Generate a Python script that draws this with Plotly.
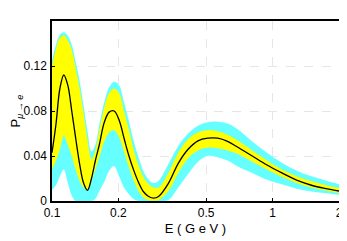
import plotly.graph_objects as go

# Energy grid (GeV)
E = [0.100, 0.1042, 0.1086, 0.1131, 0.1179, 0.1229, 0.1280, 0.1334, 0.1390, 0.1449,
     0.1510, 0.1573, 0.1639, 0.1726, 0.1816, 0.1913, 0.2014, 0.2120, 0.2233, 0.2350,
     0.2475, 0.2605, 0.2743, 0.2888, 0.3040, 0.3371, 0.3736, 0.4140, 0.4589, 0.5086,
     0.5638, 0.6249, 0.6926, 0.8083, 0.9434, 1.101, 1.285, 1.500, 1.750, 2.000]

# central probability curve
P_central = [0.043, 0.068, 0.100, 0.112, 0.103, 0.080, 0.056, 0.033, 0.016, 0.0095,
             0.020, 0.036, 0.050, 0.070, 0.079, 0.080, 0.072, 0.056, 0.040, 0.027,
             0.016, 0.008, 0.004, 0.0025, 0.004, 0.0157, 0.0335, 0.046, 0.0535, 0.0558,
             0.0558, 0.053, 0.048, 0.040, 0.032, 0.025, 0.0185, 0.014, 0.011, 0.0089]

# inner (yellow) band
P_in_low = [0.028, 0.036, 0.046, 0.058, 0.050, 0.040, 0.028, 0.018, 0.012, 0.0105,
            0.018, 0.028, 0.039, 0.053, 0.061, 0.063, 0.057, 0.044, 0.030, 0.018,
            0.0085, 0.003, 0.001, 0.0005, 0.001, 0.009, 0.025, 0.038, 0.045, 0.0475,
            0.047, 0.045, 0.042, 0.035, 0.028, 0.0215, 0.016, 0.012, 0.0093, 0.0072]
P_in_high = [0.120, 0.135, 0.145, 0.147, 0.143, 0.134, 0.118, 0.100, 0.078, 0.054,
             0.037, 0.045, 0.063, 0.083, 0.096, 0.100, 0.096, 0.080, 0.063, 0.045,
             0.031, 0.021, 0.015, 0.012, 0.012, 0.025, 0.043, 0.055, 0.061, 0.063,
             0.062, 0.059, 0.054, 0.045, 0.036, 0.028, 0.022, 0.0175, 0.014, 0.0115]

# outer (cyan) band
P_out_low = [0.010, 0.014, 0.022, 0.028, 0.016, 0.005, 0.0, 0.0, 0.0, 0.0,
             0.0, 0.002, 0.009, 0.017, 0.027, 0.031, 0.022, 0.012, 0.006, 0.0015,
             0.0, 0.0, 0.0, 0.0, 0.0, 0.001, 0.012, 0.024, 0.035, 0.040,
             0.039, 0.036, 0.031, 0.025, 0.019, 0.015, 0.011, 0.0085, 0.007, 0.0055]
P_out_high = [0.125, 0.139, 0.148, 0.150, 0.147, 0.139, 0.124, 0.107, 0.085, 0.062,
              0.044, 0.050, 0.068, 0.088, 0.101, 0.106, 0.103, 0.088, 0.071, 0.053,
              0.038, 0.026, 0.019, 0.016, 0.018, 0.033, 0.049, 0.060, 0.067, 0.070,
              0.0705, 0.069, 0.064, 0.053, 0.043, 0.034, 0.027, 0.022, 0.018, 0.015]

x_ticks = [0.1, 0.2, 0.5, 1, 2]
x_ticktext = ["0.1", "0.2", "0.5", "1", "2"]
y_ticks = [0, 0.04, 0.08, 0.12]
y_ticktext = ["0", "0.04", "0.08", "0.12"]

CYAN = "#66FFFF"
YELLOW = "#FFFF00"
FONT = "Liberation Sans, Arial, sans-serif"

fig = go.Figure()
fig.add_trace(go.Scatter(x=E, y=P_out_low, mode="lines", line=dict(width=0, color=CYAN),
                         line_shape="spline", showlegend=False, hoverinfo="skip"))
fig.add_trace(go.Scatter(x=E, y=P_out_high, mode="lines", line=dict(width=0, color=CYAN),
                         line_shape="spline", fill="tonexty", fillcolor=CYAN,
                         showlegend=False, hoverinfo="skip"))
fig.add_trace(go.Scatter(x=E, y=P_in_low, mode="lines", line=dict(width=0, color=YELLOW),
                         line_shape="spline", showlegend=False, hoverinfo="skip"))
fig.add_trace(go.Scatter(x=E, y=P_in_high, mode="lines", line=dict(width=0, color=YELLOW),
                         line_shape="spline", fill="tonexty", fillcolor=YELLOW,
                         showlegend=False, hoverinfo="skip"))
fig.add_trace(go.Scatter(x=E, y=P_central, mode="lines", line=dict(width=1.3, color="black"),
                         line_shape="spline", showlegend=False))

axis_common = dict(
    showline=True, linecolor="black", linewidth=1.5, mirror=True,
    ticks="inside", ticklen=3, tickcolor="black", tickwidth=1,
    showgrid=True, gridcolor="#e6e6e6", griddash="dash", gridwidth=1,
    zeroline=False,
    tickfont=dict(family=FONT, size=12, color="black"),
)

fig.update_xaxes(type="log", range=[-1, 0.30103], tickvals=x_ticks, ticktext=x_ticktext,
                 title=dict(text="E ( G e V )", standoff=5,
                            font=dict(family=FONT, size=13, color="black")),
                 ticklabelstandoff=0, **axis_common)
fig.update_yaxes(range=[0, 0.16], tickvals=y_ticks, ticktext=y_ticktext,
                 title=dict(text="P<sub><i>μ → e</i></sub>", standoff=1,
                            font=dict(family=FONT, size=13, color="black")),
                 ticklabelstandoff=1, **axis_common)

# the page body adds an 8px offset; the figure is sized to fill the rest of the window
fig.update_layout(width=339, height=233, margin=dict(l=44, r=4, t=13, b=40),
                  plot_bgcolor="white", paper_bgcolor="white")

fig.write_html("out.html")
